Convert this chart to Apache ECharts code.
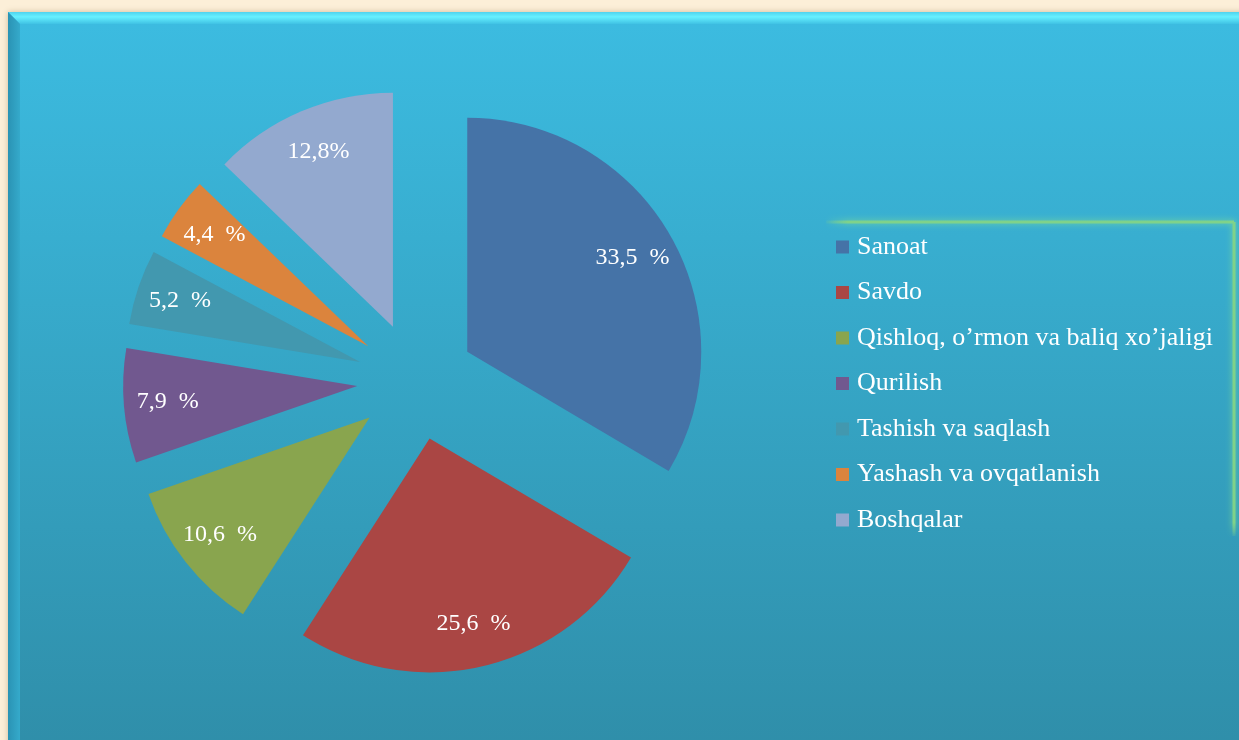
<!DOCTYPE html>
<html>
<head>
<meta charset="utf-8">
<script src="https://cdn.jsdelivr.net/npm/echarts@6/dist/echarts.min.js"></script>
<style>
  html, body { margin: 0; padding: 0; background: #fcefd8; }
  #chart { width: 1239px; height: 740px; }
</style>
</head>
<body>
<div id="chart"></div>
<script>
// sectors and their shares (%)
const categories = ['Sanoat', 'Savdo', 'Qishloq, o’rmon va baliq xo’jaligi', 'Qurilish', 'Tashish va saqlash', 'Yashash va ovqatlanish', 'Boshqalar']
const shares = [33.5, 25.6, 10.6, 7.9, 5.2, 4.4, 12.8]
const labelTexts = ['33,5  %', '25,6  %', '10,6  %', '7,9  %', '5,2  %', '4,4  %', '12,8%']
const colors = ['#4573a7', '#aa4644', '#89a54e', '#71588f', '#4298af', '#db843d', '#93a9cf']

const chart = echarts.init(document.getElementById('chart'))

const pieCenter = [416, 381]
const pieRadius = 234
const explode = 59

// main slices
const sliceData = categories.map((name, i) => ({
  name: name,
  value: shares[i],
  selected: true,
  itemStyle: { color: colors[i] }
}))

// transparent ring only used to place the labels further out
const labelData = categories.map((name, i) => ({
  name: name,
  value: shares[i],
  selected: true,
  label: { formatter: labelTexts[i] }
}))

const option = {
  backgroundColor: '#fcefd8',
  animation: false,
  color: colors,
  graphic: [
    {
      type: 'rect',
      silent: true,
      z: -10,
      shape: { x: 8, y: 12, width: 1240, height: 740 },
      style: {
        fill: new echarts.graphic.LinearGradient(0, 0, 0, 1, [
          { offset: 0, color: '#3cbce1' },
          { offset: 1, color: '#2f8ea9' }
        ]),
        shadowBlur: 6,
        shadowColor: 'rgba(120,90,40,0.35)'
      }
    },
    {
      // top bevel
      type: 'polygon',
      silent: true,
      z: -9,
      shape: { points: [[8, 12], [1239, 12], [1239, 24], [20, 24]] },
      style: {
        fill: new echarts.graphic.LinearGradient(0, 0, 0, 1, [
          { offset: 0, color: '#4fd3ee' },
          { offset: 0.4, color: '#66f0ff' },
          { offset: 1, color: '#3fc2e4' }
        ])
      }
    },
    {
      // left bevel
      type: 'polygon',
      silent: true,
      z: -9,
      shape: { points: [[8, 12], [20, 24], [20, 740], [8, 740]] },
      style: {
        fill: new echarts.graphic.LinearGradient(0, 0, 1, 0, [
          { offset: 0, color: '#2a93b4' },
          { offset: 1, color: '#35aacb' }
        ])
      }
    },
    {
      // legend frame, top edge
      type: 'line',
      silent: true,
      z: -5,
      shape: { x1: 826, y1: 222, x2: 1234, y2: 222 },
      style: {
        stroke: new echarts.graphic.LinearGradient(0, 0, 1, 0, [
          { offset: 0, color: 'rgba(127,210,138,0)' },
          { offset: 0.06, color: '#7fd28a' },
          { offset: 1, color: '#7fd28a' }
        ]),
        lineWidth: 3,
        shadowBlur: 6,
        shadowColor: 'rgba(140,230,140,0.8)'
      }
    },
    {
      // legend frame, right edge
      type: 'line',
      silent: true,
      z: -5,
      shape: { x1: 1234, y1: 222, x2: 1234, y2: 536 },
      style: {
        stroke: new echarts.graphic.LinearGradient(0, 0, 0, 1, [
          { offset: 0, color: '#7fd28a' },
          { offset: 0.95, color: '#7fd28a' },
          { offset: 1, color: 'rgba(127,210,138,0)' }
        ]),
        lineWidth: 3,
        shadowBlur: 6,
        shadowColor: 'rgba(140,230,140,0.8)'
      }
    }
  ],
  legend: {
    orient: 'vertical',
    left: 836,
    top: 234,
    padding: 0,
    itemWidth: 13,
    itemHeight: 13,
    itemGap: 19.5,
    icon: 'rect',
    data: categories,
    textStyle: {
      color: '#ffffff',
      fontFamily: 'Liberation Serif',
      fontSize: 26,
      padding: [0, 0, 0, 3]
    }
  },
  series: [
    {
      name: 'slices',
      type: 'pie',
      center: pieCenter,
      radius: [0, pieRadius],
      startAngle: 90,
      clockwise: true,
      selectedMode: 'multiple',
      selectedOffset: explode,
      label: { show: false },
      labelLine: { show: false },
      emphasis: { disabled: true },
      select: { itemStyle: {} },
      data: sliceData
    },
    {
      name: 'labels',
      type: 'pie',
      center: pieCenter,
      radius: [pieRadius * 0.6, pieRadius],
      startAngle: 90,
      clockwise: true,
      selectedMode: 'multiple',
      selectedOffset: explode,
      silent: true,
      legendHoverLink: false,
      itemStyle: { color: 'transparent' },
      label: {
        show: true,
        position: 'inside',
        color: '#ffffff',
        fontFamily: 'Liberation Serif',
        fontSize: 24
      },
      labelLine: { show: false },
      emphasis: { disabled: true },
      data: labelData
    }
  ]
}

chart.setOption(option)
</script>
</body>
</html>
